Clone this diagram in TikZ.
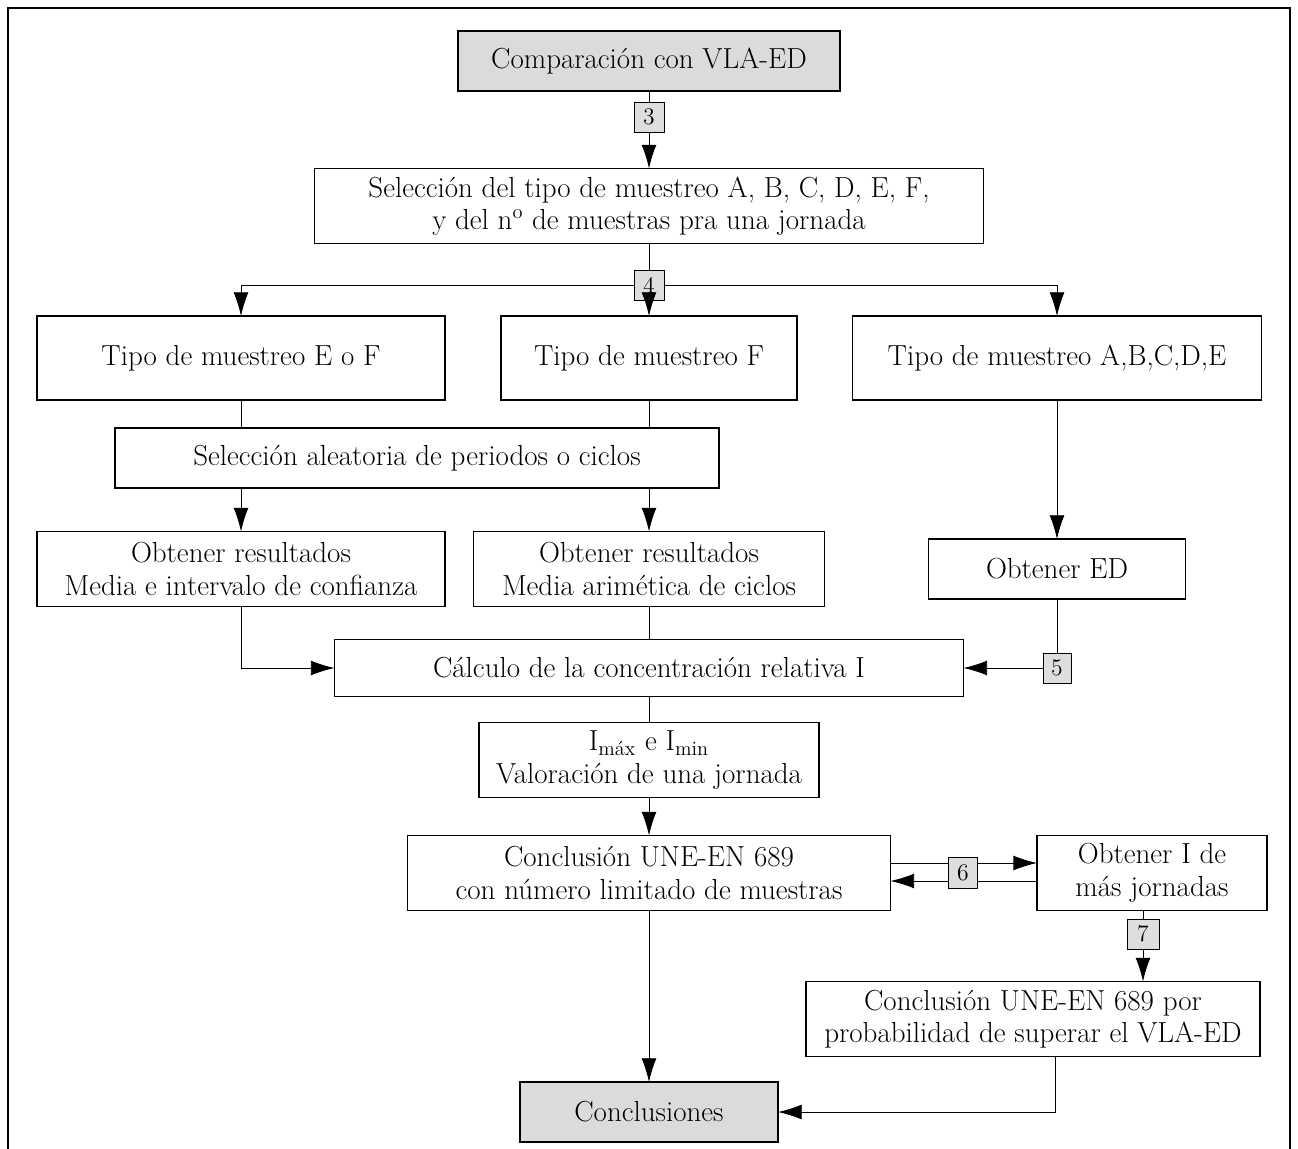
\documentclass[tikz,border=0pt]{standalone}
\usetikzlibrary{arrows.meta}

\tikzset{
  box/.style={draw, line width=0.75pt, inner sep=0pt, outer sep=0pt, align=center,
    font=\fontsize{16.5}{18.5}\selectfont},
  graybox/.style={box, fill=black!14},
  badge/.style={draw, line width=0.5pt, fill=black!13, inner sep=0pt, outer sep=0pt,
    minimum width=0.6cm, minimum height=0.6cm, font=\fontsize{13.5}{15}\selectfont},
  line/.style={line width=0.5pt},
  arr/.style={line, -{Latex[length=13.5pt,width=8.5pt]}}
}

\begin{document}
\begin{tikzpicture}[x=0.02cm, y=-0.02cm]
  \useasboundingbox (0,0) rectangle (1298,1149);
  \draw[line width=0.7pt] (8,1149) -- (8,8) -- (1290,8) -- (1290,1149);

  % main column
  \node[graybox, minimum width=7.64cm, minimum height=1.2cm] (cmp) at (649,61) {Comparación con VLA-ED};
  \node[badge] (b3) at (649,117) {3};
  \node[box, minimum width=13.38cm, minimum height=1.5cm] (sel) at (649,206)
    {Selección del tipo de muestreo A, B, C, D, E, F,\\ y del n\textsuperscript{o} de muestras pra una jornada};
  \node[badge] (b4) at (649,285) {4};

  % three sampling branches
  \node[box, minimum width=8.16cm, minimum height=1.68cm] (tEF) at (241,358) {Tipo de muestreo E o F};
  \node[box, minimum width=5.92cm, minimum height=1.68cm] (tF) at (649,358) {Tipo de muestreo F};
  \node[box, minimum width=8.18cm, minimum height=1.68cm] (tA) at (1057,358) {Tipo de muestreo A,B,C,D,E};
  \node[box, minimum width=12.08cm, minimum height=1.2cm] (ale) at (417,458) {Selección aleatoria de periodos o ciclos};
  \node[box, minimum width=8.16cm, minimum height=1.5cm] (or1) at (241,569)
    {Obtener resultados\\ Media e intervalo de confianza};
  \node[box, minimum width=7.02cm, minimum height=1.5cm] (or2) at (649,569)
    {Obtener resultados\\ Media arimética de ciclos};
  \node[box, minimum width=5.14cm, minimum height=1.2cm] (oED) at (1057,569) {Obtener ED};
  \node[box, minimum width=12.58cm, minimum height=1.14cm] (calc) at (649,668) {Cálculo de la concentración relativa I};
  \node[badge, minimum width=0.56cm] (b5) at (1057,668) {5};

  % valuation
  \node[box, minimum width=6.8cm, minimum height=1.5cm] (imax) at (649,760)
    {I\textsubscript{máx} e I\textsubscript{min}\\ Valoración de una jornada};
  \node[box, minimum width=9.66cm, minimum height=1.5cm] (con1) at (649,873)
    {Conclusión UNE-EN 689\\ con número limitado de muestras};
  \node[box, minimum width=4.6cm, minimum height=1.5cm] (oI) at (1152,873)
    {Obtener I de\\ más jornadas};
  \node[badge, minimum width=0.64cm] (b7) at (1143,934) {7};
  \node[box, minimum width=9.08cm, minimum height=1.5cm] (con2) at (1033,1019)
    {Conclusión UNE-EN 689 por\\ probabilidad de superar el VLA-ED};
  \node[graybox, minimum width=5.16cm, minimum height=1.2cm] (concl) at (649,1112) {Conclusiones};

  % connectors
  \draw[line] (cmp.south) -- (b3.north);
  \draw[arr] (b3.south) -- (sel.north);
  \draw[line] (sel.south) -- (b4.north);
  \draw[arr] (b4.west) -| (tEF.north);
  \draw[arr] (b4.south) -- (tF.north);
  \draw[arr] (b4.east) -| (tA.north);
  \draw[line] (tEF.south) -- (tEF.south |- ale.north);
  \draw[line] (tF.south) -- (tF.south |- ale.north);
  \draw[arr] (ale.south -| or1.north) -- (or1.north);
  \draw[arr] (ale.south -| or2.north) -- (or2.north);
  \draw[arr] (tA.south) -- (oED.north);
  \draw[arr] (or1.south) |- (calc.west);
  \draw[line] (or2.south) -- (calc.north);
  \draw[line] (oED.south) -- (b5.north);
  \draw[arr] (b5.west) -- (calc.east);
  \draw[line] (calc.south) -- (imax.north);
  \draw[arr] (imax.south) -- (con1.north);
  \draw[arr] ([yshift=0.2cm]con1.east) -- ([yshift=0.2cm]oI.west);
  \draw[arr] ([yshift=-0.16cm]oI.west) -- ([yshift=-0.16cm]con1.east);
  \node[badge, minimum width=0.58cm, minimum height=0.62cm] (b6) at (963,873) {6};
  \draw[line] (b7.north |- oI.south) -- (b7.north);
  \draw[arr] (b7.south) -- (b7.south |- con2.north);
  \draw[arr] (con1.south) -- (concl.north);
  \draw[arr] ([xshift=0.44cm]con2.south) |- (concl.east);
\end{tikzpicture}
\end{document}
